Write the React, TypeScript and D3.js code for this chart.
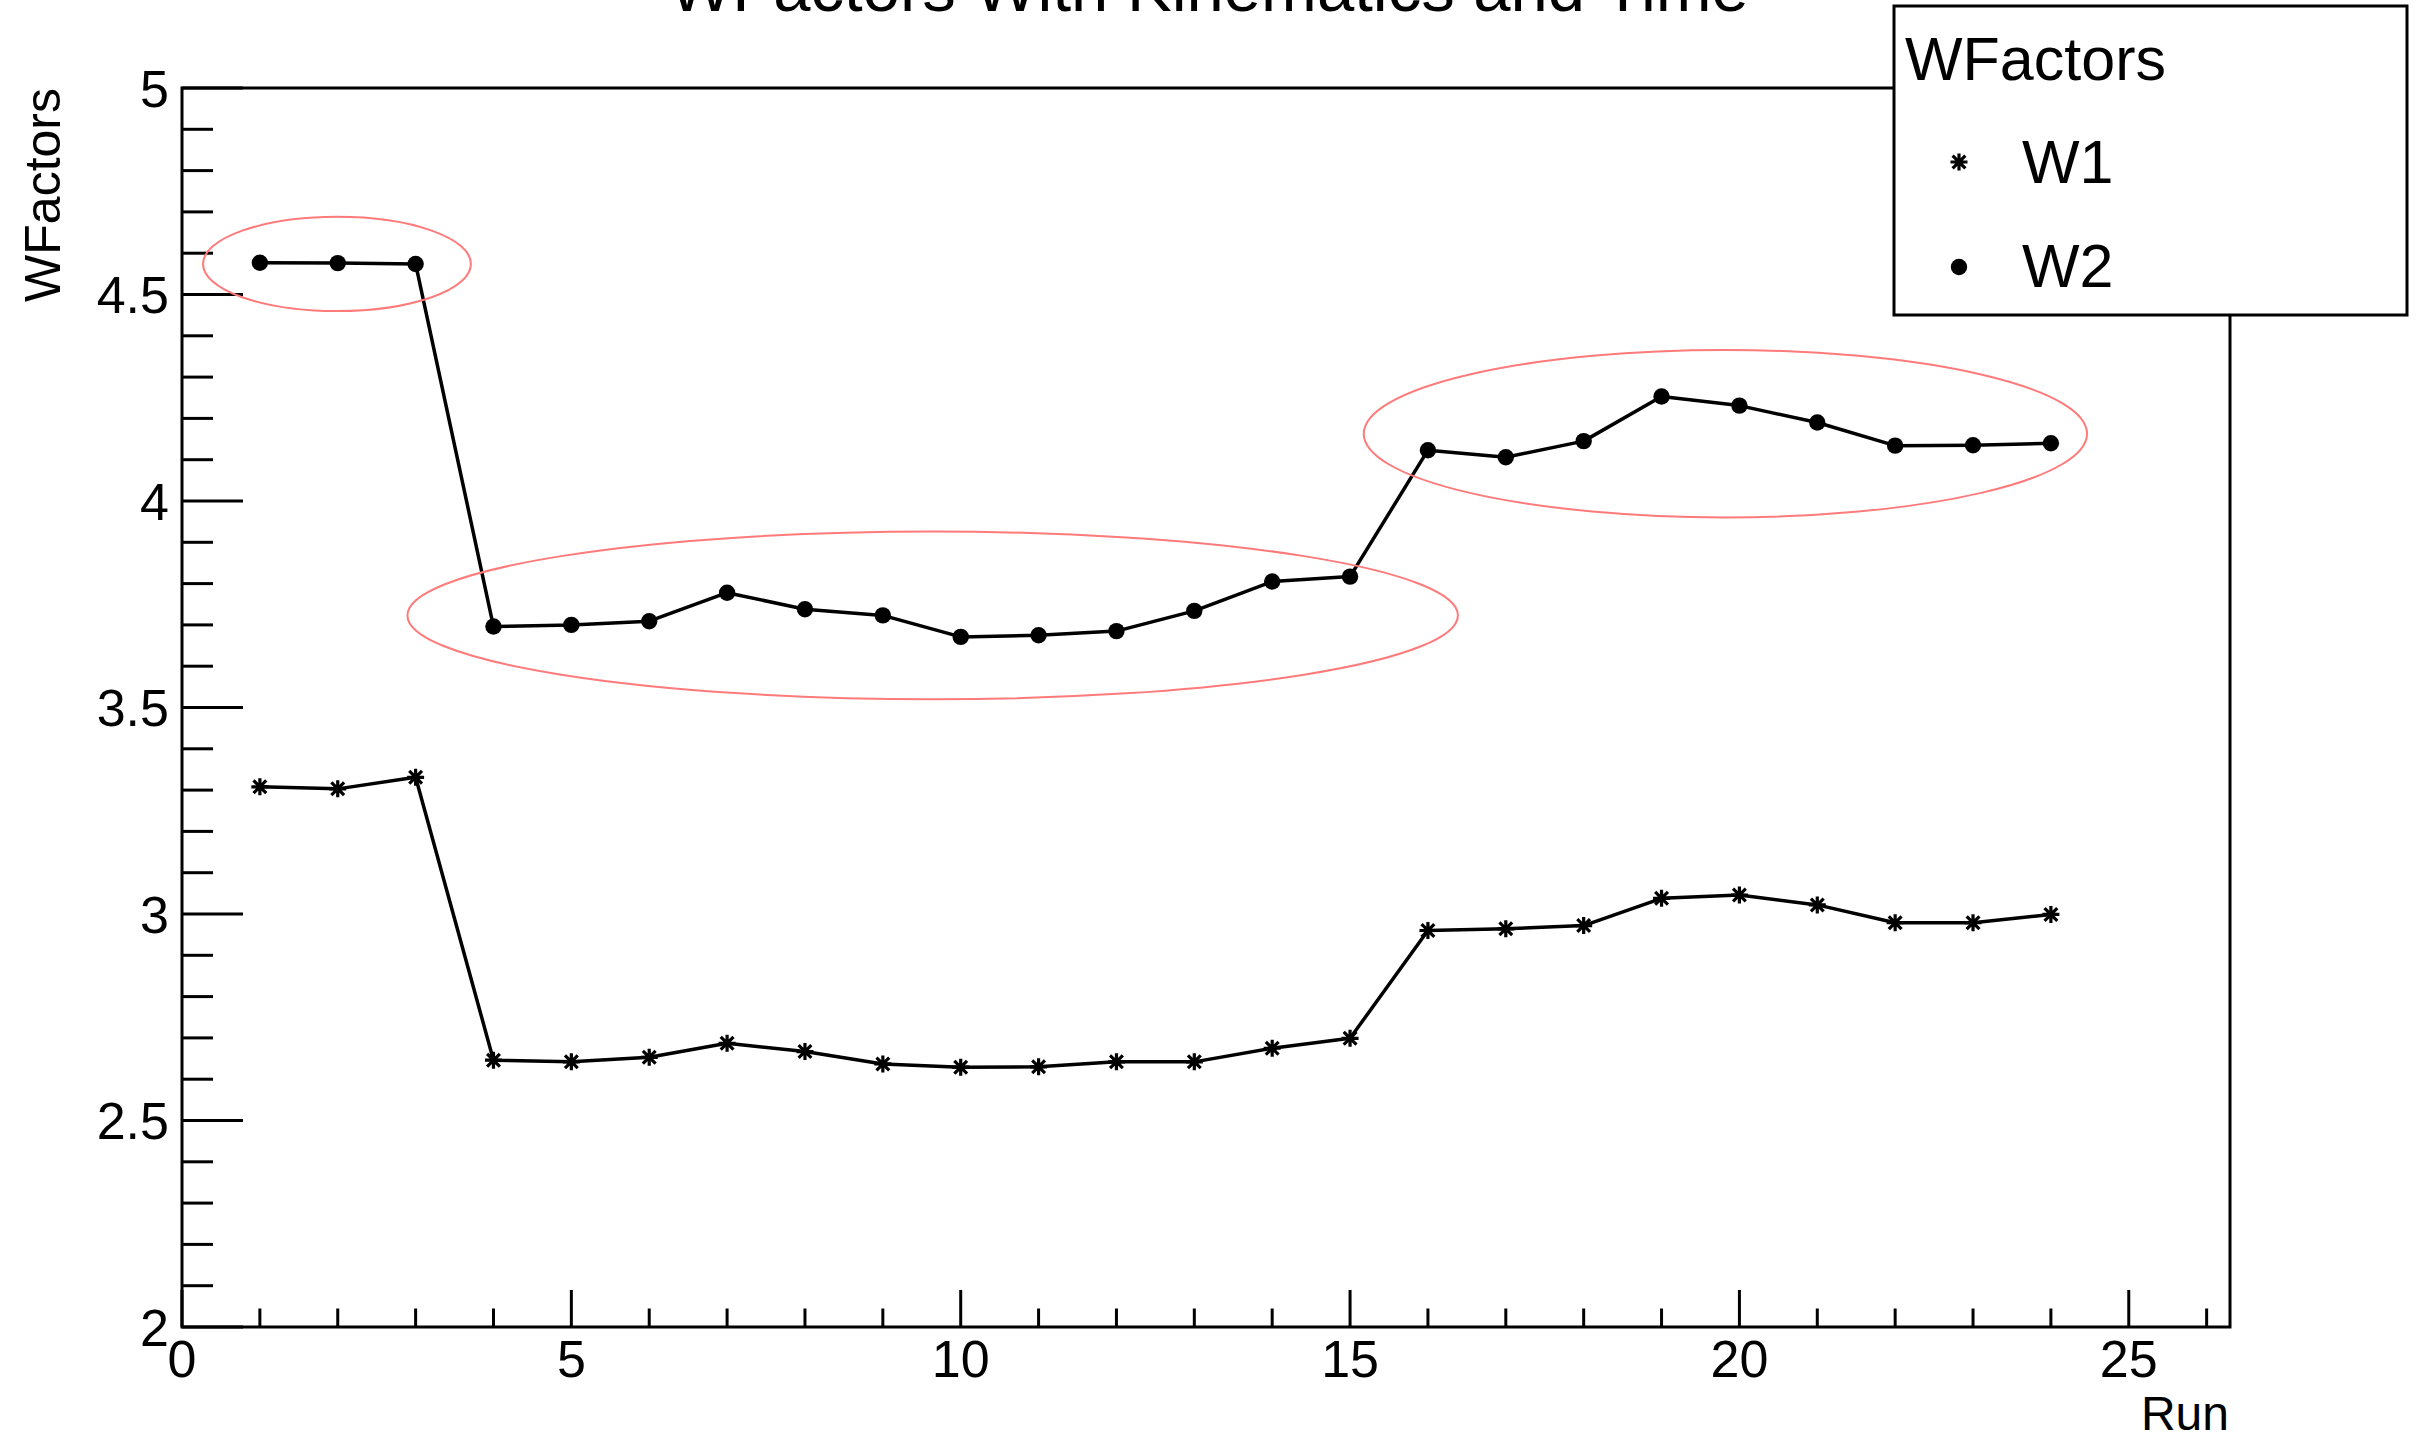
import React from 'react';
import * as d3 from 'd3';

// Run numbers and the two weight-factor series
const runs = [1, 2, 3, 4, 5, 6, 7, 8, 9, 10, 11, 12, 13, 14, 15, 16, 17, 18, 19, 20, 21, 22, 23, 24];
const w1 = [3.308, 3.303, 3.331, 2.646, 2.642, 2.653, 2.687, 2.667, 2.637, 2.629, 2.630, 2.642,
  2.642, 2.675, 2.699, 2.960, 2.964, 2.972, 3.038, 3.046, 3.022, 2.979, 2.979, 2.999];
const w2 = [4.577, 4.576, 4.574, 3.696, 3.700, 3.709, 3.778, 3.738, 3.723, 3.671, 3.675, 3.685,
  3.734, 3.805, 3.817, 4.123, 4.106, 4.145, 4.253, 4.231, 4.190, 4.134, 4.135, 4.140];

// Axis ranges and ticks
const xDomain = [0, 26.3];
const yDomain = [2, 5];
const xMajorTicks = [0, 5, 10, 15, 20, 25];
const xMajorLabels = ['0', '5', '10', '15', '20', '25'];
const yMajorTicks = [2, 2.5, 3, 3.5, 4, 4.5, 5];
const yMajorLabels = ['2', '2.5', '3', '3.5', '4', '4.5', '5'];

// Highlighted groups of runs (ellipses in data units)
const groupCenterRun = [1.99, 9.64, 19.82];
const groupCenterValue = [4.574, 3.723, 4.163];
const groupRadiusRun = [1.72, 6.745, 4.644];
const groupRadiusValue = [0.114, 0.203, 0.2027];

const W = 2422;
const H = 1442;
const frame = { left: 182, right: 2230, top: 88, bottom: 1327 };
const FONT = '"Liberation Sans", Arial, Helvetica, sans-serif';

function starPath(cx: number, cy: number, s: number) {
  const k = s * 0.75;
  return `M${cx - s},${cy}H${cx + s}M${cx},${cy - s}V${cy + s}` +
    `M${cx - k},${cy - k}L${cx + k},${cy + k}M${cx - k},${cy + k}L${cx + k},${cy - k}`;
}

export default function App() {
  const x = d3.scaleLinear().domain(xDomain).range([frame.left, frame.right]);
  const y = d3.scaleLinear().domain(yDomain).range([frame.bottom, frame.top]);

  const line = d3.line<[number, number]>().x(d => x(d[0])).y(d => y(d[1]));
  const w1Pts: [number, number][] = runs.map((r, i) => [r, w1[i]]);
  const w2Pts: [number, number][] = runs.map((r, i) => [r, w2[i]]);

  const yMinor = d3.range(0, 31).map(i => 2 + i * 0.1).filter(v => Math.abs(v * 2 - Math.round(v * 2)) > 1e-6);
  const xMinor = d3.range(0, 27).filter(v => v % 5 !== 0);

  const yMajorLen = 61;
  const yMinorLen = 31;
  const xMajorLen = 37;
  const xMinorLen = 18.5;

  return (
    <svg width={W} height={H} style={{ position: 'absolute', left: 0, top: 0, display: 'block', background: '#fff' }}
      fontFamily={FONT}>
      <rect x={0} y={0} width={W} height={H} fill="#fff" />

      {/* frame */}
      <rect x={frame.left} y={frame.top} width={frame.right - frame.left} height={frame.bottom - frame.top}
        fill="none" stroke="#000" strokeWidth={3} />

      {/* axis ticks */}
      <g stroke="#000" strokeWidth={3}>
        {yMajorTicks.map(v => (
          <line key={'ym' + v} x1={frame.left} x2={frame.left + yMajorLen} y1={y(v)} y2={y(v)} />
        ))}
        {yMinor.map(v => (
          <line key={'yn' + v} x1={frame.left} x2={frame.left + yMinorLen} y1={y(v)} y2={y(v)} />
        ))}
        {xMajorTicks.map(v => (
          <line key={'xm' + v} x1={x(v)} x2={x(v)} y1={frame.bottom} y2={frame.bottom - xMajorLen} />
        ))}
        {xMinor.map(v => (
          <line key={'xn' + v} x1={x(v)} x2={x(v)} y1={frame.bottom} y2={frame.bottom - xMinorLen} />
        ))}
      </g>

      {/* tick labels */}
      <g fontSize={52} fill="#000">
        {yMajorTicks.map((v, i) => (
          <text key={'yl' + v} x={169} y={y(v) + 18.5} textAnchor="end">{yMajorLabels[i]}</text>
        ))}
        {xMajorTicks.map((v, i) => (
          <text key={'xl' + v} x={x(v)} y={1377} textAnchor="middle">{xMajorLabels[i]}</text>
        ))}
      </g>

      {/* axis titles */}
      <text x={2229} y={1430} textAnchor="end" fontSize={48}>Run</text>
      <text transform={`translate(60,${frame.top}) rotate(-90)`} textAnchor="end" fontSize={50}>WFactors</text>

      {/* series lines */}
      <path d={line(w1Pts) || ''} fill="none" stroke="#000" strokeWidth={3.5} strokeLinejoin="round" />
      <path d={line(w2Pts) || ''} fill="none" stroke="#000" strokeWidth={3.5} strokeLinejoin="round" />

      {/* W1 markers: asterisks */}
      <g stroke="#000" strokeWidth={3.2} fill="none">
        {w1Pts.map(([r, v]) => (
          <path key={'s' + r} d={starPath(x(r), y(v), 8.5)} />
        ))}
      </g>

      {/* W2 markers: filled dots */}
      <g fill="#000">
        {w2Pts.map(([r, v]) => (
          <circle key={'c' + r} cx={x(r)} cy={y(v)} r={8.2} />
        ))}
      </g>

      {/* highlighted groups */}
      <g fill="none" stroke="#ff7a7a" strokeWidth={2}>
        {groupCenterRun.map((c, i) => (
          <ellipse key={'e' + i} cx={x(c)} cy={y(groupCenterValue[i])}
            rx={x(c + groupRadiusRun[i]) - x(c)} ry={y(groupCenterValue[i] - groupRadiusValue[i]) - y(groupCenterValue[i])} />
        ))}
      </g>

      {/* title */}
      <text x={1209} y={11} textAnchor="middle" fontSize={67}>WFactors With Kinematics and Time</text>

      {/* legend */}
      <g>
        <rect x={1894} y={6} width={513} height={309} fill="#fff" stroke="#000" strokeWidth={3} />
        <text x={1905} y={80} fontSize={61}>WFactors</text>
        <path d={starPath(1959, 162, 8.5)} stroke="#000" strokeWidth={3.2} fill="none" />
        <text x={2022} y={183} fontSize={61}>W1</text>
        <circle cx={1959} cy={267} r={8.2} fill="#000" />
        <text x={2022} y={287} fontSize={61}>W2</text>
      </g>
    </svg>
  );
}
